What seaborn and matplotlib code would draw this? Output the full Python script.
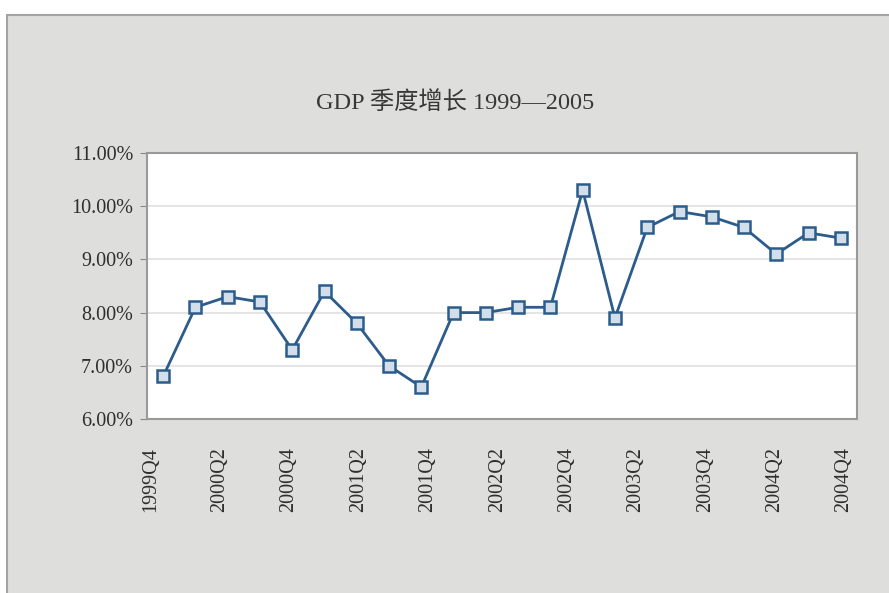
import numpy as np
import pandas as pd
import matplotlib
matplotlib.use("Agg")
import matplotlib.pyplot as plt
from matplotlib.patches import Rectangle
from matplotlib.ticker import FuncFormatter
import seaborn as sns

# Quarterly GDP growth, 1999Q4 onward
quarters = ["1999Q4",
            "2000Q1", "2000Q2", "2000Q3", "2000Q4",
            "2001Q1", "2001Q2", "2001Q3", "2001Q4",
            "2002Q1", "2002Q2", "2002Q3", "2002Q4",
            "2003Q1", "2003Q2", "2003Q3", "2003Q4",
            "2004Q1", "2004Q2", "2004Q3", "2004Q4",
            "2005Q1"]
growth = [6.8, 8.1, 8.3, 8.2, 7.3, 8.4, 7.8, 7.0, 6.6, 8.0, 8.0,
          8.1, 8.1, 10.3, 7.9, 9.6, 9.9, 9.8, 9.6, 9.1, 9.5, 9.4]
tick_labels = ["1999Q4", "2000Q2", "2000Q4", "2001Q2", "2001Q4", "2002Q2",
               "2002Q4", "2003Q2", "2003Q4", "2004Q2", "2004Q4"]
title = "GDP 季度增长 1999\u20142005"

df = pd.DataFrame({"idx": np.arange(len(quarters)), "quarter": quarters, "growth": growth})

sns.set_style("white")
plt.rcParams["font.family"] = ["Liberation Serif", "Noto Sans CJK SC", "DejaVu Sans"]

fig = plt.figure(figsize=(8.89, 5.93), dpi=100)
fig.patch.set_facecolor("white")

# grey chart panel
top = 1 - 15 / 593
panel = Rectangle((7 / 889, -0.01), 1.0, top + 0.01,
                  transform=fig.transFigure, facecolor="#dededc",
                  edgecolor="#a4a4a4", linewidth=1.5, zorder=0)
fig.patches.append(panel)

ax = fig.add_axes([147 / 889, 1 - 419 / 593, (857 - 147) / 889, (419 - 153) / 593])
ax.set_zorder(2)
ax.set_facecolor("white")

sns.lineplot(data=df, x="idx", y="growth", ax=ax, color="#2b5c8c", linewidth=2.0,
             marker="s", markersize=8, markerfacecolor="#d3deeb",
             markeredgecolor="#2b5c8c", markeredgewidth=1.8)

ax.set_xlim(-0.5, len(quarters) - 0.5)
ax.set_ylim(6, 11)
ax.set_yticks([6, 7, 8, 9, 10, 11])
ax.yaxis.set_major_formatter(FuncFormatter(lambda v, p: f"{v:.2f}%"))
ax.grid(axis="y", color="#e0e0e0", linewidth=1.2)
ax.set_axisbelow(True)

# labels every other quarter, spread across the axis
ax.set_xticks(np.linspace(-0.4, 21.1, len(tick_labels)))
ax.set_xticklabels(tick_labels, rotation=90, fontsize=14.5, color="#2e2e2e")
ax.set_xticks(np.arange(len(quarters) - 1) + 0.5, minor=True)
ax.tick_params(axis="x", which="major", length=0, pad=20)
ax.tick_params(axis="x", which="minor", direction="in", length=5, color="#888888", width=1)
ax.tick_params(axis="y", direction="out", length=5, color="#888888", labelsize=14.5,
               labelcolor="#2e2e2e", pad=5)
ax.tick_params(axis="y", left=True)

for s in ax.spines.values():
    s.set_color("#999999")
    s.set_linewidth(1.5)

ax.set_xlabel("")
ax.set_ylabel("")

fig.text(455 / 889, 1 - 103 / 593, title, ha="center", va="center",
         fontsize=17.5, color="#383838")

fig.savefig("out.png", dpi=100)
